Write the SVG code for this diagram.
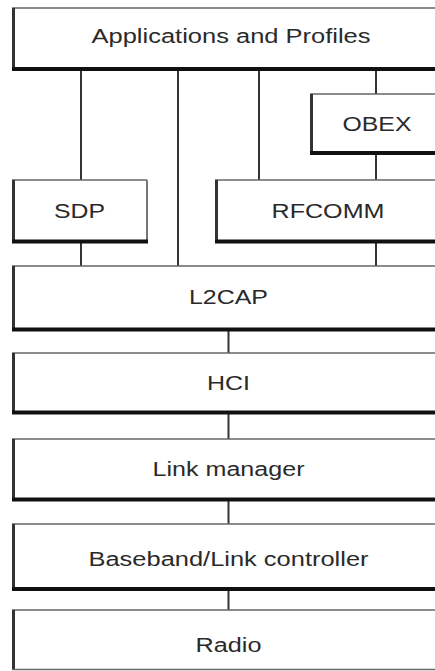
<svg xmlns="http://www.w3.org/2000/svg" width="435" height="671" viewBox="0 0 435 671">
<style>
.bg{fill:#fff;stroke:none}
.top{stroke:#666;stroke-width:1.5}
.left{stroke:#333;stroke-width:3}
.right{stroke:#777;stroke-width:2}
.bot{stroke:#111;stroke-width:4}
.conn{stroke:#333;stroke-width:2;fill:none}
text{font-family:"Liberation Sans",Arial,sans-serif;font-size:20px;fill:#2a2a2a;text-anchor:middle}
</style>
<rect width="435" height="671" fill="#fff"/>
<g id="connectors">
<line class="conn" x1="81" y1="70" x2="81" y2="180"/>
<line class="conn" x1="178" y1="70" x2="178" y2="266"/>
<line class="conn" x1="259" y1="70" x2="259" y2="180"/>
<line class="conn" x1="376" y1="70" x2="376" y2="94"/>
<line class="conn" x1="376" y1="154" x2="376" y2="180"/>
<line class="conn" x1="81" y1="242" x2="81" y2="266"/>
<line class="conn" x1="376" y1="242" x2="376" y2="266"/>
<line class="conn" x1="228.5" y1="330" x2="228.5" y2="353"/>
<line class="conn" x1="228.5" y1="413" x2="228.5" y2="439"/>
<line class="conn" x1="228.5" y1="500" x2="228.5" y2="524"/>
<line class="conn" x1="228.5" y1="589" x2="228.5" y2="610"/>
</g>
<g id="apps">
<rect class="bg" x="12" y="8" width="434" height="61"/>
<line class="top" x1="12" y1="8" x2="446" y2="8"/>
<line class="left" x1="13.5" y1="8" x2="13.5" y2="69"/>
<line class="bot" x1="12" y1="69" x2="446" y2="69"/>
<text x="231" y="43" textLength="279" lengthAdjust="spacingAndGlyphs">Applications and Profiles</text>
</g>
<g id="obex">
<rect class="bg" x="310" y="94" width="136" height="59"/>
<line class="top" x1="310" y1="94" x2="446" y2="94"/>
<line class="left" x1="311.5" y1="94" x2="311.5" y2="153"/>
<line class="bot" x1="310" y1="153" x2="446" y2="153"/>
<text x="377" y="131" textLength="69" lengthAdjust="spacingAndGlyphs">OBEX</text>
</g>
<g id="sdp">
<rect class="bg" x="12" y="180" width="135" height="61"/>
<line class="top" x1="12" y1="180" x2="147" y2="180"/>
<line class="left" x1="13.5" y1="180" x2="13.5" y2="241"/>
<line class="right" x1="147" y1="180" x2="147" y2="241"/>
<line class="bot" x1="12" y1="241.5" x2="148" y2="241.5"/>
<text x="79.5" y="218" textLength="51" lengthAdjust="spacingAndGlyphs">SDP</text>
</g>
<g id="rfcomm">
<rect class="bg" x="215" y="180" width="231" height="61"/>
<line class="top" x1="215" y1="180" x2="446" y2="180"/>
<line class="left" x1="216.5" y1="180" x2="216.5" y2="241"/>
<line class="bot" x1="215" y1="241.5" x2="446" y2="241.5"/>
<text x="328" y="218" textLength="113" lengthAdjust="spacingAndGlyphs">RFCOMM</text>
</g>
<g id="l2cap">
<rect class="bg" x="12" y="266" width="434" height="63"/>
<line class="top" x1="12" y1="266" x2="446" y2="266"/>
<line class="left" x1="13.5" y1="266" x2="13.5" y2="329"/>
<line class="bot" x1="12" y1="329.5" x2="446" y2="329.5"/>
<text x="228.5" y="304" textLength="79" lengthAdjust="spacingAndGlyphs">L2CAP</text>
</g>
<g id="hci">
<rect class="bg" x="12" y="353" width="434" height="59"/>
<line class="top" x1="12" y1="353" x2="446" y2="353"/>
<line class="left" x1="13.5" y1="353" x2="13.5" y2="412"/>
<line class="bot" x1="12" y1="412.5" x2="446" y2="412.5"/>
<text x="228.5" y="390" textLength="43" lengthAdjust="spacingAndGlyphs">HCI</text>
</g>
<g id="linkmanager">
<rect class="bg" x="12" y="439" width="434" height="60"/>
<line class="top" x1="12" y1="439" x2="446" y2="439"/>
<line class="left" x1="13.5" y1="439" x2="13.5" y2="499"/>
<line class="bot" x1="12" y1="499.5" x2="446" y2="499.5"/>
<text x="228.5" y="476" textLength="152" lengthAdjust="spacingAndGlyphs">Link manager</text>
</g>
<g id="baseband">
<rect class="bg" x="12" y="524" width="434" height="65"/>
<line class="top" x1="12" y1="524" x2="446" y2="524"/>
<line class="left" x1="13.5" y1="524" x2="13.5" y2="589"/>
<line class="bot" x1="12" y1="589" x2="446" y2="589"/>
<text x="228.5" y="566" textLength="280" lengthAdjust="spacingAndGlyphs">Baseband/Link controller</text>
</g>
<g id="radio">
<rect class="bg" x="12" y="610" width="434" height="60"/>
<line class="top" x1="12" y1="610" x2="446" y2="610"/>
<line class="left" x1="13.5" y1="610" x2="13.5" y2="670"/>
<line class="top" x1="12" y1="669.5" x2="446" y2="669.5"/>
<text x="228.5" y="652" textLength="66" lengthAdjust="spacingAndGlyphs">Radio</text>
</g>
</svg>
